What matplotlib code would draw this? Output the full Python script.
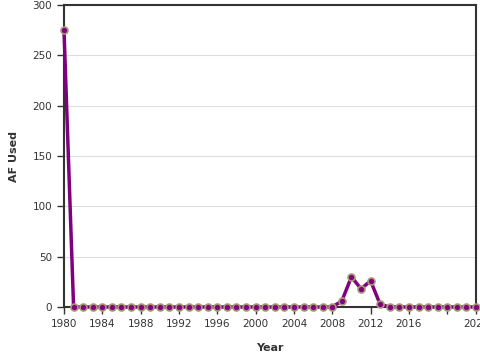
import numpy as np
import matplotlib.pyplot as plt

years = list(range(1980, 2024))
af_used = [275] + [0] * 28 + [6, 30, 18, 26, 2.5] + [0] * 10

x_ticks = list(range(1980, 2021, 4)) + [2023]
x_tick_labels = [str(y) for y in range(1980, 2017, 4)] + ["", "2023"]
y_ticks = [0, 50, 100, 150, 200, 250, 300]

plt.rcParams.update({"font.family": "DejaVu Sans"})

fig = plt.figure(figsize=(4.8, 3.6), dpi=100)
ax = fig.add_axes([64 / 480, 1 - 307 / 360, 412 / 480, 302 / 360])

ax.plot(years, af_used, color="#800080", lw=2.5, zorder=3,
        marker="o", ms=5, mfc="#800080", mec="#a89878", mew=1.2,
        clip_on=False)

ax.set_xlim(1980, 2023)
ax.set_ylim(0, 300)
ax.set_xticks(x_ticks)
ax.set_xticklabels(x_tick_labels)
ax.set_yticks(y_ticks)
ax.tick_params(labelsize=7.5, length=5, width=1, color="#333333",
               labelcolor="#333333")
ax.grid(axis="y", color="#dddddd", lw=0.8)
ax.set_axisbelow(True)
ax.axhline(0, color="#333333", lw=2, zorder=2)
for s in ax.spines.values():
    s.set_color("#333333")
    s.set_linewidth(1.5)

ax.set_xlabel("Year", fontsize=8, fontweight="bold", color="#333333", labelpad=10)
ax.set_ylabel("AF Used", fontsize=8, fontweight="bold", color="#333333", labelpad=10)

fig.savefig("out.png", dpi=100)
